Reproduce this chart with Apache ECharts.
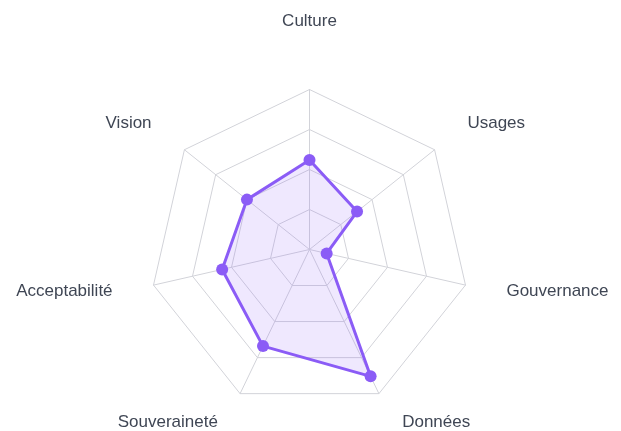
<!DOCTYPE html>
<html>
<head>
<meta charset="utf-8">
<script src="https://cdn.jsdelivr.net/npm/echarts@6/dist/echarts.min.js"></script>
<style>
  html, body { margin: 0; padding: 0; background: #fff; }
  #radar-chart { width: 621px; height: 431px; }
</style>
</head>
<body>
<div id="radar-chart"></div>
<script>
// axes, clockwise from the top as they appear in the picture
let categories = ['Culture', 'Usages', 'Gouvernance', 'Données', 'Souveraineté', 'Acceptabilité', 'Vision']
let scores = [56, 38, 11, 88, 67, 56, 50]
let maxScore = 100

// echarts lays radar indicators out counter-clockwise, so keep the first one and reverse the rest
let order = [0].concat(categories.map((c, i) => i).slice(1).reverse())
let indicators = order.map(i => ({name: categories[i], max: maxScore}))
let values = order.map(i => scores[i])

// small nudges so the names sit like the original ones
let nameStyle = {
  'Culture': 'top',
  'Gouvernance': 'side',
  'Acceptabilité': 'side',
  'Données': 'bottomR',
  'Souveraineté': 'bottomL'
}

let myChart = echarts.init(document.getElementById('radar-chart'))
let option = {
  animation: false,
  radar: {
    center: [309.5, 249.5],
    radius: 160,
    startAngle: 90,
    splitNumber: 4,
    shape: 'polygon',
    indicator: indicators,
    axisName: {
      color: '#3f4654',
      fontSize: 17,
      fontFamily: 'Liberation Sans, Arial, sans-serif',
      formatter: name => nameStyle[name] ? '{' + nameStyle[name] + '|' + name + '}' : name,
      rich: {
        top: {fontSize: 17, color: '#3f4654', padding: [0, 0, 18, 0]},
        side: {fontSize: 17, color: '#3f4654', padding: [0, 0, 7, 0]},
        bottomR: {fontSize: 17, color: '#3f4654', padding: [0, 0, 18, 5]},
        bottomL: {fontSize: 17, color: '#3f4654', padding: [0, 4, 18, 0]}
      }
    },
    nameGap: 42,
    axisLine: {lineStyle: {color: '#d2d3d9', width: 1}},
    splitLine: {lineStyle: {color: '#d2d3d9', width: 1}},
    splitArea: {show: false},
    axisTick: {show: false},
    axisLabel: {show: false}
  },
  series: [
    {
      name: 'Scores',
      type: 'radar',
      symbol: 'circle',
      symbolSize: 12,
      data: [{value: values}],
      itemStyle: {color: '#8b5cf6'},
      lineStyle: {color: '#8b5cf6', width: 3},
      areaStyle: {color: 'rgba(139, 92, 246, 0.2)'}
    }
  ]
}
myChart.setOption(option)
</script>
</body>
</html>
